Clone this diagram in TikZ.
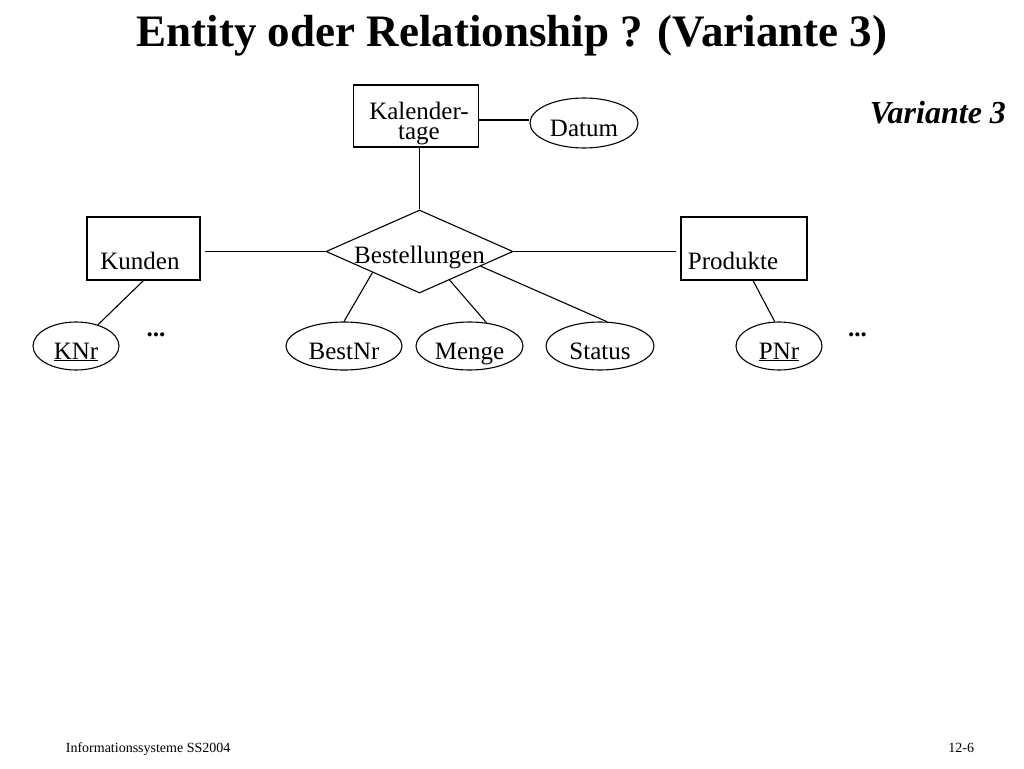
\documentclass[tikz,border=0pt]{standalone}
\usepackage{fontspec}
\setmainfont{Liberation Serif}
\usetikzlibrary{shapes.geometric, positioning, calc}

\begin{document}
\begin{tikzpicture}[x=1pt, y=-1pt, line width=1.1pt,
    every node/.style={font=\fontsize{25}{25}\selectfont},
    entity/.style={draw, rectangle, inner sep=0pt},
    attr/.style={draw, ellipse, inner sep=0pt, minimum height=48pt, text height=26pt, text depth=0pt},
    rel/.style={draw, diamond, aspect=2.25, inner sep=0pt, minimum width=187pt, minimum height=83pt, text height=23pt, text depth=0pt},
    etext/.style={anchor=base},
    dots/.style={anchor=base, font=\bfseries\fontsize{25}{25}\selectfont}]

  \useasboundingbox (0,0) rectangle (1024,768);

  % title
  \node[anchor=base, font=\bfseries\fontsize{45}{45}\selectfont] (title) at (512,47) {Entity oder Relationship ? (Variante 3)};
  \node[anchor=base west, font=\bfseries\itshape\fontsize{32}{32}\selectfont] (variante) at (866,123) {Variante 3};

  % entities
  \node[entity, minimum width=125pt, minimum height=62pt] (kal) at (416,116) {};
  \node[align=center, font=\fontsize{25}{20}\selectfont] (kaltext) at (419,124) {Kalender-\\tage};
  \node[entity, minimum width=113pt, minimum height=63pt] (kunden) at (143.5,248.5) {};
  \node[etext] (kundentext) at (140,269) {Kunden};
  \node[entity, minimum width=126pt, minimum height=63pt] (produkte) at (744,248.5) {};
  \node[etext] (produktetext) at (733,269) {Produkte};

  % relationship
  \node[rel] (best) at (419.5,251.5) {Bestellungen};

  % attributes
  \node[attr, minimum width=108pt, minimum height=50pt] (datum) at (584,123) {Datum};
  \node[attr, minimum width=86pt] (knr) at (76,346) {\underline{KNr}};
  \node[attr, minimum width=116pt] (bestnr) at (344,346) {BestNr};
  \node[attr, minimum width=107pt] (menge) at (469.5,346) {Menge};
  \node[attr, minimum width=108pt] (status) at (600,346) {Status};
  \node[attr, minimum width=86pt] (pnr) at (779,346) {\underline{PNr}};
  \node[dots] (kdots) at (156,336) {...};
  \node[dots] (pdots) at (857.5,336) {...};

  % connectors
  \draw ([yshift=-4pt]kal.east) -- ([yshift=-4pt]kal.east -| datum.west);
  \draw (best.north |- kal.south) -- (best.north);
  \draw ([xshift=4pt]kunden.east |- best.west) -- (best.west);
  \draw (best.east) -- ([xshift=-4pt]produkte.west |- best.east);
  \draw (kunden.south) -- (knr);
  \draw (best.south west) -- (bestnr.north);
  \draw ($(best.south)!0.32!(best.east)$) -- (menge.54);
  \draw ($(best.south)!0.65!(best.east)$) -- (status.74);
  \draw ([xshift=9pt]produkte.south) -- (pnr.100);

  % footer
  \node[anchor=base west, font=\fontsize{14}{14}\selectfont] (kurs) at (62,752) {Informationssysteme SS2004};
  \node[anchor=base east, font=\fontsize{14}{14}\selectfont] (seite) at (978,752) {12-6};
\end{tikzpicture}
\end{document}
